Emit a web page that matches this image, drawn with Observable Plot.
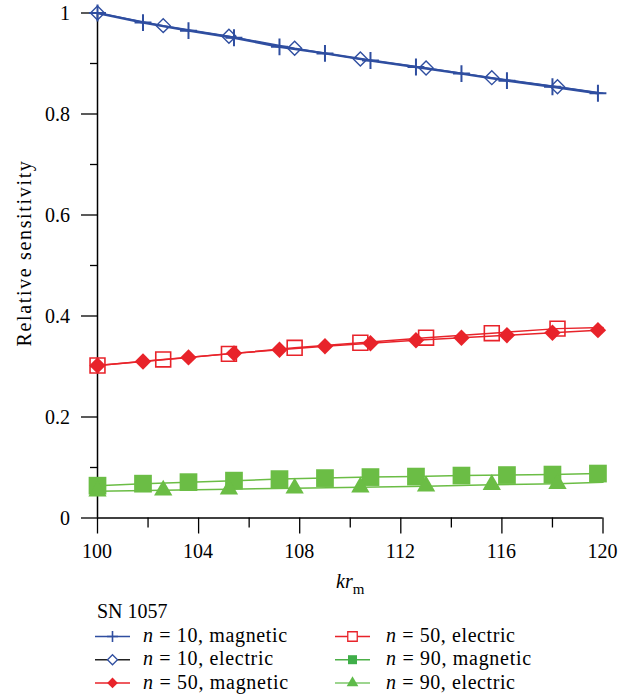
<!DOCTYPE html>
<html><head><meta charset="utf-8">
<script src="https://cdn.jsdelivr.net/npm/d3@7"></script>
<script src="https://cdn.jsdelivr.net/npm/@observablehq/plot@0.6"></script>
<style>
html,body{margin:0;padding:0;background:#fff;}
#wrap{position:relative;width:633px;height:699px;}
.lbl{position:absolute;font-family:'Liberation Serif';font-size:20px;line-height:20px;white-space:nowrap;color:#000;}
</style>
</head><body>
<div id="wrap"></div>
<script>
// ---- data ----
const kMagnetic = [100, 101.8, 103.6, 105.4, 107.2, 109, 110.8, 112.6, 114.4, 116.2, 118, 119.8];
const kElectric = [100, 102.6, 105.2, 107.8, 110.4, 113, 115.6, 118.2, 120];
const n10Magnetic = [1.0, 0.981, 0.965, 0.951, 0.933, 0.920, 0.906, 0.893, 0.880, 0.866, 0.854, 0.841];
const n10Electric = [1.0, 0.975, 0.954, 0.930, 0.909, 0.891, 0.872, 0.854, 0.841];
const n50Magnetic = [0.302, 0.310, 0.318, 0.326, 0.333, 0.340, 0.346, 0.352, 0.357, 0.362, 0.367, 0.372];
const n50Electric = [0.302, 0.314, 0.325, 0.337, 0.347, 0.357, 0.366, 0.375, 0.377];
const n90Magnetic = [0.064, 0.068, 0.071, 0.074, 0.077, 0.079, 0.081, 0.082, 0.084, 0.085, 0.086, 0.088];
const n90Electric = [0.053, 0.055, 0.057, 0.059, 0.061, 0.063, 0.066, 0.068, 0.071];
const seriesNames = ["n = 10, magnetic", "n = 10, electric", "n = 50, magnetic", "n = 50, electric", "n = 90, magnetic", "n = 90, electric"];
const xMajorTicks = [100, 104, 108, 112, 116, 120];
const xMinorTicks = [102, 106, 110, 114, 118];
const yMajorTicks = [0, 0.2, 0.4, 0.6, 0.8, 1];
const yTickLabels = ["0", "0.2", "0.4", "0.6", "0.8", "1"];
const yMinorTicks = [0.1, 0.3, 0.5, 0.7, 0.9];
const legendTitle = "SN 1057";
const yTitle = "Relative sensitivity";

// ---- styles ----
const BLUE = "#2f4ea0", RED = "#e8232a", GREEN = "#6bbd45";
const ASC = 16.75; // baseline offset of a 20px Liberation Serif line box
const toRows = (ks, vs) => ks.map((k, i) => ({k, v: vs[i]}));
const series = [
  {rows: toRows(kMagnetic, n10Magnetic), color: BLUE, lw: 2.4, symbol: "plus", r: 5.5, fill: "none", sw: 2},
  {rows: toRows(kElectric, n10Electric), color: BLUE, lw: 1.5, symbol: "diamond2", r: 6.3, fill: "none", sw: 1.4},
  {rows: toRows(kMagnetic, n50Magnetic), color: RED, lw: 1.5, symbol: "diamond2", r: 7.4, fill: RED, sw: 0},
  {rows: toRows(kElectric, n50Electric), color: RED, lw: 1.5, symbol: "square", r: 8.4, fill: "none", sw: 1.6},
  {rows: toRows(kMagnetic, n90Magnetic), color: GREEN, lw: 1.5, symbol: "square", r: 10, fill: GREEN, sw: 0},
  {rows: toRows(kElectric, n90Electric), color: GREEN, lw: 1.5, symbol: "triangle", r: 6.8, fill: GREEN, sw: 0}
];

const marks = [];
marks.push(Plot.axisY({ticks: yMinorTicks, tickSize: 7, tickFormat: () => "", strokeWidth: 1.3, label: null}));
marks.push(Plot.axisX({ticks: xMinorTicks, tickSize: 10, tickFormat: () => "", strokeWidth: 1.3, label: null}));
marks.push(Plot.axisY({ticks: yMajorTicks, tickSize: 16, tickFormat: () => "", strokeWidth: 1.3, label: null}));
marks.push(Plot.axisX({ticks: xMajorTicks, tickSize: 16, tickFormat: () => "", strokeWidth: 1.3, label: null}));
marks.push(Plot.ruleX([100], {strokeWidth: 1.5}));
marks.push(Plot.ruleY([0], {strokeWidth: 1.5}));
for (const s of series) {
  marks.push(Plot.line(s.rows, {x: "k", y: "v", stroke: s.color, strokeWidth: s.lw}));
}
for (const s of series) {
  marks.push(Plot.dot(s.rows.filter(d => d.k < 120), {x: "k", y: "v", symbol: () => s.symbol, r: s.r,
    fill: s.fill, stroke: s.sw ? s.color : "none", strokeWidth: s.sw}));
}

const chart = Plot.plot({
  width: 633, height: 570,
  marginLeft: 97, marginRight: 30.5, marginTop: 12.5, marginBottom: 52.5,
  x: {domain: [100, 120], axis: null},
  y: {domain: [0, 1], axis: null},
  symbol: {type: "identity"},
  style: {background: "white", color: "black"},
  marks
});
const wrap = document.getElementById("wrap");
wrap.appendChild(chart);
const sx = chart.scale("x"), sy = chart.scale("y");

// ---- text labels as HTML (positions from the Plot scales) ----
const W = d3.select(wrap);
const ctx = document.createElement("canvas").getContext("2d");
function spacingFor(text, target, font) {
  ctx.font = font;
  return (target - ctx.measureText(text).width) / text.length;
}
xMajorTicks.forEach(v => {
  W.append("div").attr("class", "lbl").text(String(v))
    .style("left", sx.apply(v) + "px").style("top", (558 - ASC) + "px").style("transform", "translateX(-50%)");
});
yMajorTicks.forEach((v, i) => {
  W.append("div").attr("class", "lbl").text(yTickLabels[i])
    .style("right", (633 - 70) + "px").style("top", (sy.apply(v) + 6.8 - ASC) + "px");
});
W.append("div").attr("class", "lbl").text(yTitle)
  .style("left", "24px").style("top", (sy.apply(0.5) - 12) + "px")
  .style("letter-spacing", spacingFor(yTitle, 187, "20px 'Liberation Serif'") + "px")
  .style("transform", "translate(-50%,-50%) rotate(-90deg)");
W.append("div").attr("class", "lbl")
  .html("<i>kr</i><span style=\"font-size:15px;position:relative;top:6px\">m</span>")
  .style("left", (sx.apply(110) + 0.5) + "px").style("top", (588 - ASC) + "px").style("transform", "translateX(-50%)");
W.append("div").attr("class", "lbl").text(legendTitle).style("left", "97px").style("top", (618 - ASC) + "px");

// ---- legend ----
const ov = W.append("svg").attr("width", 633).attr("height", 699)
  .style("position", "absolute").style("left", "0px").style("top", "0px").style("pointer-events", "none");
const legendStyle = [
  {line: BLUE, symColor: BLUE, type: d3.symbolPlus, size: 41, fill: false, sw: 1.6, len: 144},
  {line: "#222", symColor: BLUE, type: d3.symbolDiamond2, size: 64, fill: false, sw: 1.3, len: 130},
  {line: RED, symColor: RED, type: d3.symbolDiamond2, size: 72, fill: true, sw: 0, len: 145},
  {line: RED, symColor: RED, type: d3.symbolSquare, size: 90, fill: false, sw: 1.3, len: 129},
  {line: "#4caf47", symColor: "#3fae49", type: d3.symbolSquare, size: 81, fill: true, sw: 0, len: 145},
  {line: "#7dc76a", symColor: "#5fbb4a", type: d3.symbolTriangle, size: 59, fill: true, sw: 0, len: 129}
];
seriesNames.forEach((name, i) => {
  const st = legendStyle[i];
  const col = i < 3 ? 0 : 1, row = i % 3;
  const x0 = col ? 335 : 95, tx = col ? 386 : 143;
  const base = 642 + row * 23.2, cy = base - 5.5;
  ov.append("line").attr("x1", x0).attr("x2", x0 + 35).attr("y1", cy).attr("y2", cy)
    .attr("stroke", st.line).attr("stroke-width", 1.5);
  ov.append("path").attr("d", d3.symbol(st.type, st.size)()).attr("transform", `translate(${x0 + 17.5},${cy})`)
    .attr("fill", st.fill ? st.symColor : "white").attr("stroke", st.sw ? st.symColor : "none").attr("stroke-width", st.sw);
  ctx.font = "italic 20px 'Liberation Serif'";
  const wi = ctx.measureText(name.slice(0, 1)).width;
  const ls = spacingFor(name.slice(1), st.len - wi, "20px 'Liberation Serif'");
  W.append("div").attr("class", "lbl")
    .html(`<i>${name.slice(0, 1)}</i>${name.slice(1)}`)
    .style("letter-spacing", ls + "px")
    .style("left", tx + "px").style("top", (base - ASC) + "px");
});
</script></body></html>
